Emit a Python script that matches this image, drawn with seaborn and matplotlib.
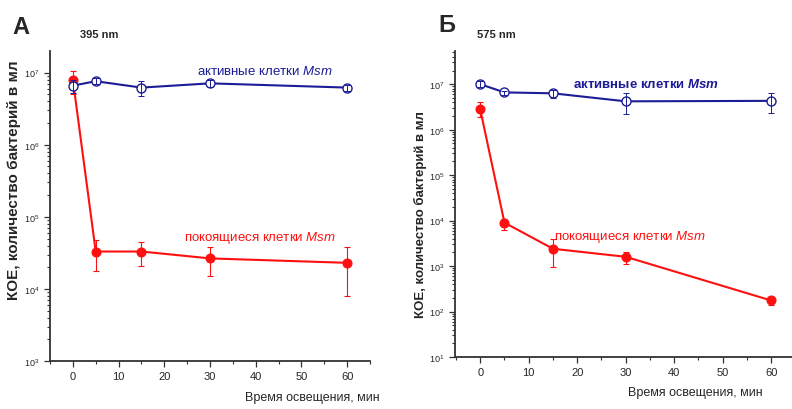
import numpy as np
import pandas as pd
import matplotlib
matplotlib.use("Agg")
import matplotlib.pyplot as plt
import seaborn as sns
from matplotlib.ticker import LogLocator, MultipleLocator, LogFormatterSciNotation

sns.set_style("ticks")
plt.rcParams['font.family'] = ['Liberation Sans', 'DejaVu Sans']
plt.rcParams['mathtext.fontset'] = 'custom'
plt.rcParams['mathtext.rm'] = 'Liberation Sans'
plt.rcParams['mathtext.it'] = 'Liberation Sans:italic'
plt.rcParams['mathtext.bf'] = 'Liberation Sans:bold'
plt.rcParams['mathtext.bfit'] = 'Liberation Sans:italic:bold'

# --- Data ---
time_min = [0, 5, 15, 30, 60]

# Panel A (395 nm)
a_active = [6.6e6, 7.6e6, 6.2e6, 7.1e6, 6.2e6]
a_active_lo = [5.3e6, 6.9e6, 4.7e6, 6.3e6, 5.6e6]
a_active_hi = [8.0e6, 8.3e6, 7.7e6, 7.9e6, 6.8e6]
a_rest = [8.0e6, 3.3e4, 3.3e4, 2.65e4, 2.3e4]
a_rest_lo = [5.1e6, 1.75e4, 2.1e4, 1.5e4, 8.0e3]
a_rest_hi = [1.07e7, 4.8e4, 4.5e4, 3.8e4, 3.8e4]

# Panel B (575 nm)
b_active = [1.0e7, 6.6e6, 6.3e6, 4.2e6, 4.3e6]
b_active_lo = [8.5e6, 5.9e6, 5.0e6, 2.2e6, 2.3e6]
b_active_hi = [1.15e7, 7.2e6, 7.4e6, 6.3e6, 6.3e6]
b_rest = [2.8e6, 9.0e3, 2.4e3, 1.6e3, 1.75e2]
b_rest_lo = [1.9e6, 6.2e3, 9.3e2, 1.1e3, 1.4e2]
b_rest_hi = [4.0e6, 1.07e4, 4.0e3, 2.0e3, 2.1e2]

panel_letters = ["А", "Б"]
wavelengths = ["395 nm", "575 nm"]
ylabel_text = "КОЕ, количество бактерий в мл"
xlabel_text = "Время освещения, мин"
active_label = r"активные клетки $\it{Msm}$"
active_label_bold = r"активные клетки $\mathbfit{Msm}$"
rest_label = r"покоящиеся клетки $\it{Msm}$"

BLUE = "#1c1c96"
RED = "#ff1010"

fig = plt.figure(figsize=(7.92, 4.10), dpi=100)
axA = fig.add_axes([50/792, 48/410, 320/792, 310/410])
axB = fig.add_axes([455/792, 52/410, 337/792, 306/410])


def draw(ax, active, alo, ahi, rest, rlo, rhi, ylim, xlim, ms):
    df = pd.DataFrame({"t": time_min, "active": active, "rest": rest})
    sns.lineplot(data=df, x="t", y="rest", ax=ax, color=RED, lw=1.5,
                 marker="o", markersize=ms, markerfacecolor=RED,
                 markeredgecolor=RED, zorder=3)
    sns.lineplot(data=df, x="t", y="active", ax=ax, color=BLUE, lw=1.5,
                 marker="o", markersize=ms, markerfacecolor="white",
                 markeredgecolor=BLUE, markeredgewidth=1.0, zorder=4)
    ra = np.array(rest); aa = np.array(active)
    ax.errorbar(time_min, rest, yerr=[ra - np.array(rlo), np.array(rhi) - ra],
                fmt="none", ecolor=RED, elinewidth=0.8, capsize=2, capthick=0.8, zorder=2)
    ax.errorbar(time_min, active, yerr=[aa - np.array(alo), np.array(ahi) - aa],
                fmt="none", ecolor=BLUE, elinewidth=0.7, capsize=2, capthick=0.7, zorder=5)
    ax.set_yscale("log")
    ax.set_ylim(*ylim)
    ax.set_xlim(*xlim)
    ax.xaxis.set_major_locator(MultipleLocator(10))
    ax.xaxis.set_minor_locator(MultipleLocator(5))
    ax.yaxis.set_major_locator(LogLocator(base=10, numticks=20))
    ax.yaxis.set_minor_locator(LogLocator(base=10, subs=np.arange(2, 10), numticks=20))
    ax.yaxis.set_major_formatter(LogFormatterSciNotation())
    ax.tick_params(axis="both", which="major", length=4, width=0.9, labelsize=8, color="#333333")
    ax.tick_params(axis="both", which="minor", length=2.5, width=0.8, color="#333333")
    ax.tick_params(axis="y", labelsize=6.5)
    for s in ["left", "bottom"]:
        ax.spines[s].set_linewidth(1.3)
        ax.spines[s].set_color("#333333")
    sns.despine(ax=ax)
    ax.set_xlabel("")
    ax.set_ylabel("")


draw(axA, a_active, a_active_lo, a_active_hi, a_rest, a_rest_lo, a_rest_hi,
     (1e3, 10**7.3), (-5, 65), 6.5)
draw(axB, b_active, b_active_lo, b_active_hi, b_rest, b_rest_lo, b_rest_hi,
     (1e1, 10**7.73), (-5.2, 64.3), 6.5)

# Panel letters and wavelengths
fig.text(12/792, 1 - 27/410, panel_letters[0], fontsize=17, fontweight="bold", va="center")
fig.text(80/792, 1 - 35/410, wavelengths[0], fontsize=8, fontweight="bold", va="center")
fig.text(438/792, 1 - 25/410, panel_letters[1], fontsize=17, fontweight="bold", va="center")
fig.text(477/792, 1 - 35/410, wavelengths[1], fontsize=8, fontweight="bold", va="center")

# Y labels
fig.text(14/792, 1 - 180/410, ylabel_text, rotation=90, fontsize=11, fontweight="bold",
         va="center", ha="center")
fig.text(420/792, 1 - 215/410, ylabel_text, rotation=90, fontsize=9.5, fontweight="bold",
         va="center", ha="center")

# X labels
fig.text(380/792, 1 - 398/410, xlabel_text, fontsize=9, ha="right", va="center")
fig.text(763/792, 1 - 393/410, xlabel_text, fontsize=9, ha="right", va="center")

# Annotations
axA.annotate(active_label, xy=(265/792, 1 - 72/410), xycoords="figure fraction",
             color=BLUE, fontsize=9.5, ha="center", va="center")
axA.annotate(rest_label, xy=(260/792, 1 - 238/410), xycoords="figure fraction",
             color=RED, fontsize=9.5, ha="center", va="center")
axB.annotate(active_label_bold, xy=(646/792, 1 - 85/410),
             xycoords="figure fraction",
             color=BLUE, fontsize=9.5, fontweight="bold", ha="center", va="center")
axB.annotate(rest_label, xy=(630/792, 1 - 237/410), xycoords="figure fraction",
             color=RED, fontsize=9.5, ha="center", va="center")

fig.savefig("out.png", dpi=100)
